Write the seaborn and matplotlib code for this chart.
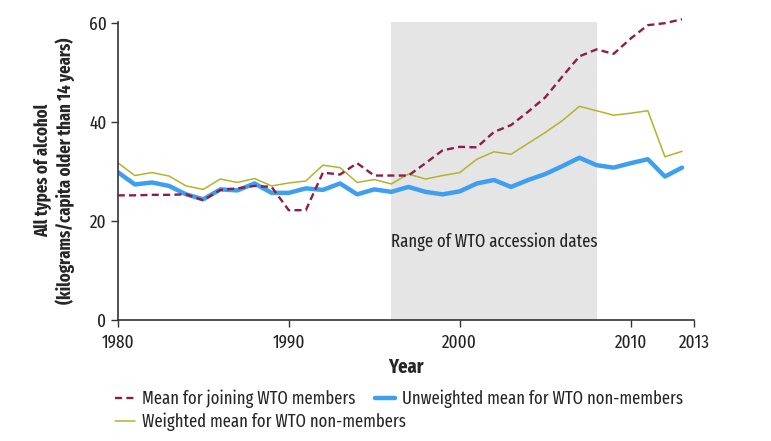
import matplotlib
matplotlib.use("Agg")
import matplotlib.pyplot as plt
import seaborn as sns
import pandas as pd

years = list(range(1980, 2014))

joining_members = [25.2, 25.2, 25.3, 25.3, 25.4, 24.2, 26.3, 26.6, 27.1, 26.9,
                   22.2, 22.2, 29.8, 29.4, 31.7, 29.2, 29.2, 29.2, 31.7, 34.3,
                   35.0, 34.9, 38.0, 39.4, 42.1, 45.0, 49.2, 53.3, 54.7, 53.8,
                   56.9, 59.6, 60.0, 60.8]

unweighted_non = [29.9, 27.4, 27.8, 27.1, 25.4, 24.4, 26.4, 26.2, 27.6, 25.7,
                  25.7, 26.6, 26.3, 27.6, 25.4, 26.4, 25.9, 26.9, 25.9, 25.4,
                  26.0, 27.6, 28.3, 26.9, 28.3, 29.5, 31.1, 32.8, 31.3, 30.8,
                  31.7, 32.5, 29.0, 30.8]

weighted_non = [31.8, 29.2, 29.8, 29.1, 27.1, 26.4, 28.5, 27.8, 28.6, 27.1,
                27.7, 28.1, 31.3, 30.8, 27.8, 28.4, 27.5, 29.5, 28.5, 29.2,
                29.8, 32.5, 34.0, 33.5, 35.7, 37.9, 40.3, 43.2, 42.3, 41.4,
                41.8, 42.3, 33.0, 34.1]

tick_labels = ["1980", "1990", "2000", "2010", "2013"]
y_ticks = [0, 20, 40, 60]
band_start, band_end = 1996, 2008

labels = ["Mean for joining WTO members",
          "Unweighted mean for WTO non-members",
          "Weighted mean for WTO non-members"]

df = pd.DataFrame({"Year": years,
                   labels[0]: joining_members,
                   labels[1]: unweighted_non,
                   labels[2]: weighted_non})

sns.set_style("ticks")
plt.rcParams["font.family"] = ["Fira Sans Extra Condensed", "DejaVu Sans"]

W, H = 771, 441
fig = plt.figure(figsize=(W / 100, H / 100), dpi=100)
ax = fig.add_axes([0.1527, 0.2744, 0.9001 - 0.1527, 0.9508 - 0.2744])

c_red = "#8c1d4a"
c_blue = "#3e9ff0"
c_olive = "#b3b32c"

ax.axvspan(band_start, band_end, color="#e5e5e5", zorder=0, lw=0)

sns.lineplot(data=df, x="Year", y=labels[0], ax=ax, color=c_red, lw=1.7,
             linestyle=(0, (3, 1.8)), label=labels[0], legend=False, zorder=3,
             clip_on=False)
sns.lineplot(data=df, x="Year", y=labels[1], ax=ax, color=c_blue, lw=3.2,
             label=labels[1], legend=False, zorder=2)
sns.lineplot(data=df, x="Year", y=labels[2], ax=ax, color=c_olive, lw=1.1,
             label=labels[2], legend=False, zorder=2.5)

x_end = 2013.7
ax.set_xlim(1980, x_end)
ax.set_ylim(0, 60.3)
ax.set_xticks([1980, 1990, 2000, 2010, x_end])
ax.set_xticklabels(tick_labels)
ax.set_yticks(y_ticks)
ax.tick_params(axis="both", direction="out", length=5, width=1, color="#333333",
               labelsize=13.5, labelcolor="#222222")
ax.tick_params(axis="x", pad=5)
ax.tick_params(axis="y", pad=3)

for s in ["top", "right"]:
    ax.spines[s].set_visible(False)
for s in ["left", "bottom"]:
    ax.spines[s].set_color("#333333")
    ax.spines[s].set_linewidth(1.2)

ax.set_xlabel("Year", fontsize=14.5, fontweight="bold", labelpad=4)
ax.set_ylabel("All types of alcohol\n(kilograms/capita older than 14 years)",
              fontsize=13, fontweight="bold", labelpad=10, linespacing=1.2)

ax.text((band_start + band_end) / 2, 15.8, "Range of WTO accession dates",
        ha="center", va="center", fontsize=13, color="#222222")

handles, lbls = ax.get_legend_handles_labels()
leg_kw = dict(frameon=False, fontsize=13, handlelength=1.1, handletextpad=0.4,
              borderaxespad=0, borderpad=0, loc="center left")
leg1 = fig.legend([handles[0], handles[1]], [lbls[0], lbls[1]], ncol=2,
                  columnspacing=1.1,
                  bbox_to_anchor=(115 / W, 1 - 399 / H), **leg_kw)
leg2 = fig.legend([handles[2]], [lbls[2]], ncol=1,
                  bbox_to_anchor=(115 / W, 1 - 422 / H), **leg_kw)

fig.savefig("out.png", dpi=100)
